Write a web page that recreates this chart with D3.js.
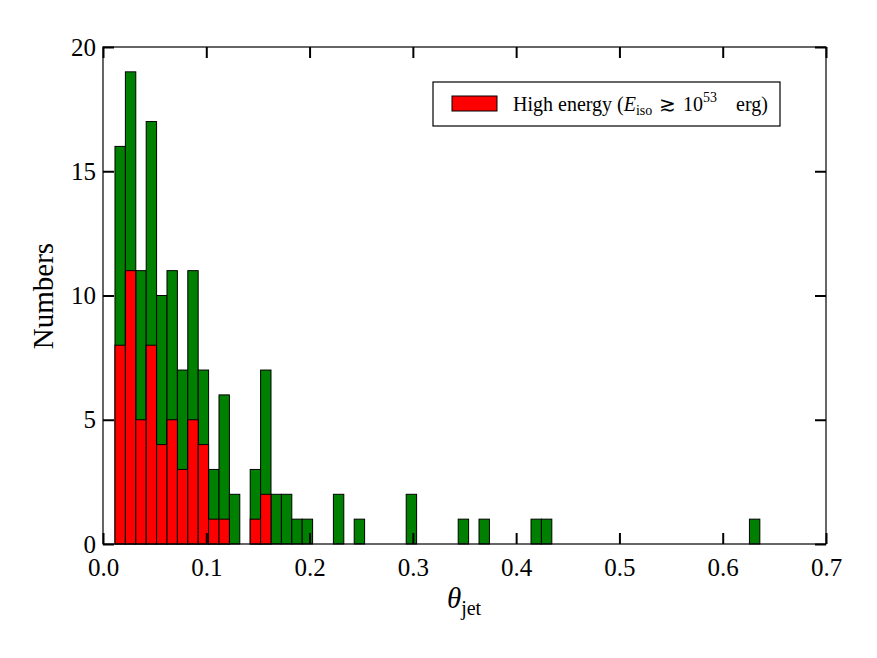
<!DOCTYPE html>
<html><head><meta charset="utf-8">
<script src="https://cdn.jsdelivr.net/npm/d3@7/dist/d3.min.js"></script>
<style>body{margin:0;background:#fff}svg{display:block}text{font-family:"Liberation Serif","DejaVu Serif",serif;fill:#000}</style>
</head><body><svg id="c" width="877" height="658"></svg>
<script>
const binStart = 0.0116;
const binWidth = 0.01007;
const allCounts = [16,19,11,17,10,11,7,11,7,3,6,2,0,3,7,2,2,1,1,0,0,2,0,1,0,0,0,0,2,0,0,0,0,1,0,1,0,0,0,0,1,1,0,0,0,0,0,0,0,0,0,0,0,0,0,0,0,0,0,0,0,1];
const highCounts = [8,11,5,8,4,5,3,5,4,1,1,0,0,1,2,0,0,0,0,0];
const xTicks = [0.0,0.1,0.2,0.3,0.4,0.5,0.6,0.7];
const yTicks = [0,5,10,15,20];

const svg = d3.select("#c");
const L=103,R=826,T=47,B=544;
const x = d3.scaleLinear().domain([0,0.7]).range([L,R]);
const y = d3.scaleLinear().domain([0,20]).range([B,T]);

const allBins = allCounts.map((c,i)=>({x0:binStart+i*binWidth,x1:binStart+(i+1)*binWidth,c})).filter(d=>d.c>0);
const highBins = highCounts.map((c,i)=>({x0:binStart+i*binWidth,x1:binStart+(i+1)*binWidth,c})).filter(d=>d.c>0);

svg.append("g").selectAll("rect").data(allBins).join("rect")
  .attr("x",d=>x(d.x0)).attr("width",d=>x(d.x1)-x(d.x0))
  .attr("y",d=>y(d.c)).attr("height",d=>y(0)-y(d.c))
  .attr("fill","#008000").attr("stroke","#000").attr("stroke-width",1);
svg.append("g").selectAll("rect").data(highBins).join("rect")
  .attr("x",d=>x(d.x0)).attr("width",d=>x(d.x1)-x(d.x0))
  .attr("y",d=>y(d.c)).attr("height",d=>y(0)-y(d.c))
  .attr("fill","#ff0000").attr("stroke","#000").attr("stroke-width",1);

// frame
svg.append("rect").attr("x",L).attr("y",T).attr("width",R-L).attr("height",B-T)
  .attr("fill","none").attr("stroke","#000").attr("stroke-width",1.2);

const tl = 11;
const ax = svg.append("g").attr("transform",`translate(0,${B})`)
  .call(d3.axisBottom(x).tickValues(xTicks).tickFormat(d3.format(".1f")).tickSizeInner(-tl).tickSizeOuter(0));
const axT = svg.append("g").attr("transform",`translate(0,${T})`)
  .call(d3.axisTop(x).tickValues(xTicks).tickFormat("").tickSizeInner(-tl).tickSizeOuter(0));
const ay = svg.append("g").attr("transform",`translate(${L},0)`)
  .call(d3.axisLeft(y).tickValues(yTicks).tickSizeInner(-tl).tickSizeOuter(0));
const ayR = svg.append("g").attr("transform",`translate(${R},0)`)
  .call(d3.axisRight(y).tickValues(yTicks).tickFormat("").tickSizeInner(-tl).tickSizeOuter(0));
[ax,axT,ay,ayR].forEach(g=>{
  g.select(".domain").remove();
  g.selectAll(".tick line").attr("stroke","#000").attr("stroke-width",2);
  g.selectAll("text").style("font-family",'"Liberation Serif",serif').style("font-size","25px").attr("fill","#000");
});
ax.selectAll("text").attr("dy","0.71em").attr("y",14);
ay.selectAll("text").attr("x",-7).attr("dy","0.32em");

// axis labels
svg.append("text").attr("transform","translate(53,296) rotate(-90)").attr("text-anchor","middle")
  .style("font-size","29px").text("Numbers");
const xl = svg.append("text").attr("x",464).attr("y",608).attr("text-anchor","middle").style("font-size","29px");
xl.append("tspan").style("font-style","italic").text("θ");
xl.append("tspan").attr("dy",7).style("font-size","20px").text("jet");

// legend
const lg = svg.append("g");
lg.append("rect").attr("x",433).attr("y",82).attr("width",347).attr("height",44).attr("fill","#fff").attr("stroke","#000").attr("stroke-width",1.2);
lg.append("rect").attr("x",452).attr("y",96).attr("width",45).attr("height",15).attr("fill","#ff0000").attr("stroke","#000").attr("stroke-width",1);
const lt = lg.append("text").attr("x",513).attr("y",111).style("font-size","20px");
lt.append("tspan").text("High energy (");
lt.append("tspan").style("font-style","italic").text("E");
lt.append("tspan").attr("dy",4).style("font-size","14px").text("iso");
lt.append("tspan").attr("dy",-4).attr("x",659).text("≳");
lt.append("tspan").attr("x",683).text("10");
lt.append("tspan").attr("dy",-9).style("font-size","14px").text("53");
lt.append("tspan").attr("dy",9).attr("x",736).text("erg)");
</script></body></html>
